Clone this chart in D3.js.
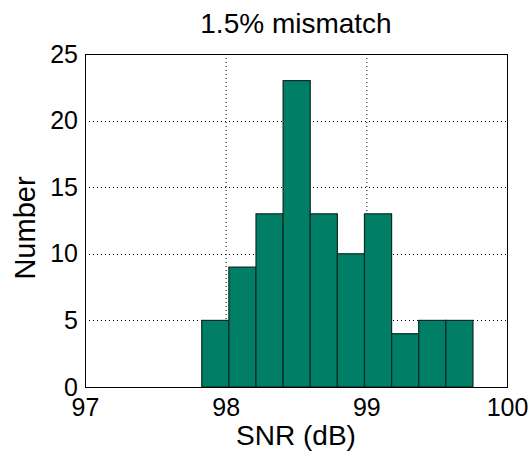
<!DOCTYPE html>
<html>
<head>
<meta charset="utf-8">
<script src="https://cdn.jsdelivr.net/npm/d3@7"></script>
<style>
  body { margin: 0; background: #fff; }
  text { font-family: "Liberation Sans", Arial, sans-serif; fill: #000; }
</style>
</head>
<body>
<svg id="canvas" width="532" height="458"></svg>
<script>
// histogram bins (left edge, right edge in dB) and counts
let binStart = 97.83;
let binWidth = 0.1928;
let counts = [5, 9, 13, 23, 13, 10, 13, 4, 5, 5];
let xTicks = [97, 98, 99, 100];
let yTicks = [0, 5, 10, 15, 20, 25];

let bins = counts.map((c, i) => ({
  x0: binStart + i * binWidth,
  x1: binStart + (i + 1) * binWidth,
  count: c
}));

let svg = d3.select("#canvas");
let plotLeft = 85, plotRight = 507, plotTop = 54, plotBottom = 387;

let x = d3.scaleLinear().domain([97, 100]).range([plotLeft, plotRight]);
let y = d3.scaleLinear().domain([0, 25]).range([plotBottom, plotTop]);

// dotted grid
svg.append("g")
  .selectAll("line")
  .data(xTicks.slice(1, -1))
  .enter()
  .append("line")
  .attr("x1", (d) => x(d) + 0.5).attr("x2", (d) => x(d) + 0.5)
  .attr("y1", plotTop).attr("y2", plotBottom)
  .attr("stroke", "#000").attr("stroke-width", 1)
  .attr("stroke-dasharray", "1,3");

svg.append("g")
  .selectAll("line")
  .data(yTicks.slice(1, -1))
  .enter()
  .append("line")
  .attr("x1", plotLeft).attr("x2", plotRight)
  .attr("y1", (d) => Math.round(y(d)) + 0.5).attr("y2", (d) => Math.round(y(d)) + 0.5)
  .attr("stroke", "#000").attr("stroke-width", 1)
  .attr("stroke-dasharray", "1,3");

// bars
svg.append("g")
  .selectAll("rect")
  .data(bins)
  .enter()
  .append("rect")
  .attr("x", (d) => x(d.x0))
  .attr("width", (d) => x(d.x1) - x(d.x0))
  .attr("y", (d) => y(d.count))
  .attr("height", (d) => y(0) - y(d.count))
  .attr("fill", "#007f66")
  .attr("stroke", "#0a2a22")
  .attr("stroke-width", 1.2);

// axes box
svg.append("rect")
  .attr("x", plotLeft + 0.5).attr("y", plotTop + 0.5)
  .attr("width", plotRight - plotLeft).attr("height", plotBottom - plotTop)
  .attr("fill", "none").attr("stroke", "#000").attr("stroke-width", 1);

let xAxis = d3.axisBottom(x).tickValues(xTicks).tickFormat(d3.format("d"))
  .tickSize(0).tickPadding(11);
svg.append("g")
  .attr("transform", "translate(0," + plotBottom + ")")
  .call(xAxis)
  .call((g) => g.select(".domain").remove())
  .selectAll("text")
  .style("font-size", "25px")
  .style("font-family", "Liberation Sans, Arial, sans-serif");

let yAxis = d3.axisLeft(y).tickValues(yTicks).tickFormat(d3.format("d"))
  .tickSize(0).tickPadding(7);
svg.append("g")
  .attr("transform", "translate(" + plotLeft + ",0)")
  .call(yAxis)
  .call((g) => g.select(".domain").remove())
  .selectAll("text")
  .style("font-size", "25px")
  .style("font-family", "Liberation Sans, Arial, sans-serif");

// title and labels
svg.append("text")
  .attr("x", 296).attr("y", 33)
  .attr("text-anchor", "middle")
  .style("font-size", "28px")
  .text("1.5% mismatch");

svg.append("text")
  .attr("x", 296).attr("y", 445)
  .attr("text-anchor", "middle")
  .style("font-size", "28px")
  .text("SNR (dB)");

svg.append("text")
  .attr("transform", "translate(35,228) rotate(-90)")
  .attr("text-anchor", "middle")
  .style("font-size", "29px")
  .text("Number");
</script>
</body>
</html>
